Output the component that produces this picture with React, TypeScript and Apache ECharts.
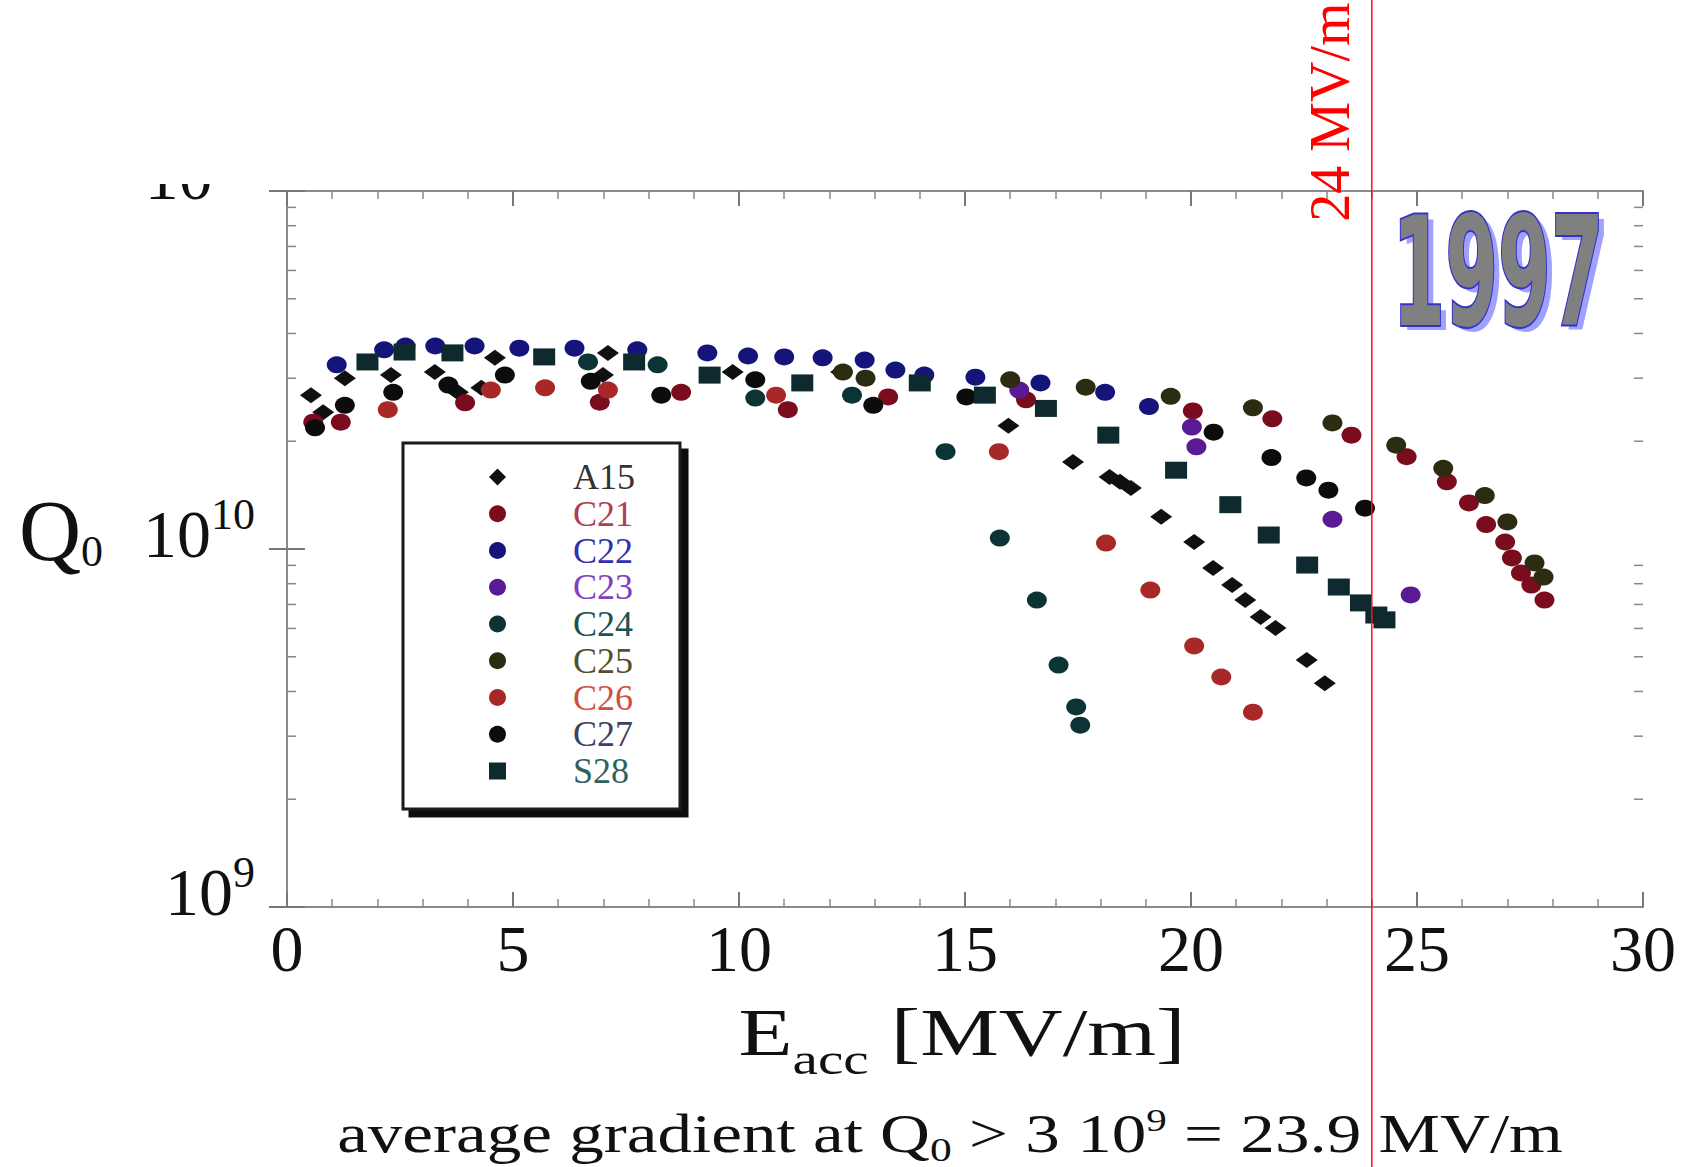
import React, { useEffect, useRef } from "react";
import * as echarts from "echarts";

// ---- data: [Eacc (MV/m), Q0 in units of 1e10] ----
const seriesNames = ["A15", "C21", "C22", "C23", "C24", "C25", "C26", "C27", "S28"];

const A15 = [
  [0.53, 2.69], [0.8, 2.41], [1.28, 3.0], [2.3, 3.06], [3.27, 3.12], [3.78, 2.74], [4.3, 2.82],
  [4.6, 3.42], [6.99, 3.06], [7.1, 3.53], [9.86, 3.12], [12.26, 3.12],
  [15.96, 2.21], [17.39, 1.75], [18.2, 1.59], [18.43, 1.54], [18.67, 1.48], [19.34, 1.23],
  [20.07, 1.046], [20.49, 0.885], [20.91, 0.793], [21.2, 0.72], [21.54, 0.646], [21.87, 0.602],
  [22.56, 0.49], [22.96, 0.422],
];
const C21 = [
  [0.58, 2.26], [1.19, 2.26], [3.94, 2.56], [6.92, 2.57], [8.72, 2.74], [11.08, 2.45], [13.3, 2.66],
  [16.35, 2.61], [20.04, 2.43], [21.8, 2.31], [23.55, 2.08], [24.77, 1.81], [25.66, 1.54],
  [26.15, 1.345], [26.53, 1.17], [26.95, 1.046], [27.1, 0.944], [27.3, 0.857], [27.53, 0.793],
  [27.82, 0.72],
];
const C22 = [
  [1.1, 3.27], [2.15, 3.6], [2.62, 3.69], [3.28, 3.69], [4.15, 3.69], [5.14, 3.64], [6.36, 3.64],
  [7.75, 3.6], [9.3, 3.53], [10.2, 3.46], [11.0, 3.44], [11.85, 3.42], [12.78, 3.37], [13.46, 3.16],
  [14.1, 3.06], [15.23, 3.02], [16.67, 2.91], [18.1, 2.74], [19.07, 2.5],
];
const C23 = [[16.2, 2.78], [20.02, 2.19], [20.12, 1.93], [23.13, 1.21], [24.86, 0.744]];
const C24 = [
  [6.66, 3.33], [8.2, 3.27], [10.36, 2.64], [12.5, 2.69], [14.57, 1.87], [15.77, 1.073],
  [16.59, 0.72], [17.07, 0.474], [17.46, 0.362], [17.55, 0.322],
];
const C25 = [
  [12.3, 3.12], [12.8, 3.0], [16.0, 2.97], [17.67, 2.83], [19.55, 2.67], [21.37, 2.48], [23.13, 2.25],
  [24.54, 1.95], [25.58, 1.68], [26.5, 1.41], [27.0, 1.19], [27.6, 0.914], [27.8, 0.835],
];
const C26 = [
  [2.23, 2.45], [4.51, 2.78], [5.71, 2.82], [7.1, 2.78], [10.82, 2.69], [15.75, 1.87], [18.12, 1.039],
  [19.1, 0.768], [20.07, 0.536], [20.67, 0.439], [21.37, 0.35],
];
const C27 = [
  [0.62, 2.18], [1.28, 2.52], [2.35, 2.74], [3.57, 2.87], [4.82, 3.06], [6.72, 2.94], [8.28, 2.69],
  [10.36, 2.97], [12.97, 2.52], [15.03, 2.66], [20.5, 2.12], [21.78, 1.8], [22.55, 1.58],
  [23.04, 1.46], [23.85, 1.3],
];
const S28 = [
  [1.78, 3.33], [2.6, 3.55], [3.66, 3.53], [5.69, 3.44], [7.68, 3.33], [9.35, 3.06], [11.4, 2.91],
  [14.0, 2.91], [15.44, 2.69], [16.79, 2.47], [18.17, 2.08], [19.67, 1.66], [20.87, 1.33],
  [21.72, 1.094], [22.57, 0.902], [23.27, 0.783], [23.76, 0.707], [24.1, 0.654], [24.28, 0.634],
];
const seriesData = [A15, C21, C22, C23, C24, C25, C26, C27, S28];

const xTickInterval = 5;
const xMin = 0;
const xMax = 30;
const yMin = 1e9;
const yMax = 1e11;
const yMinorTicks = [2e9, 3e9, 4e9, 5e9, 6e9, 7e9, 8e9, 9e9, 2e10, 3e10, 4e10, 5e10, 6e10, 7e10, 8e10, 9e10];
const redLineX = 24;
const redLineLabel = "24 MV/m";
const yearLabel = "1997";

// ---- styles ----
const seriesColors = ["#101010", "#7a0c1e", "#14147a", "#5a1a96", "#0c3434", "#2c2c12", "#a82828", "#0c0c0c", "#0e2a2e"];
const legendTextColors = ["#333333", "#b04050", "#3030b0", "#8040c0", "#205050", "#505030", "#d05040", "#404060", "#306060"];
const seriesSymbols = ["diamond", "circle", "circle", "circle", "circle", "circle", "circle", "circle", "rect"];
const seriesSizes = [[22, 16], [20, 17], [20, 17], [20, 17], [20, 17], [20, 17], [20, 17], [20, 17], [22, 17]];

const SERIF = "Liberation Serif, Times New Roman, serif";
const AXIS_GRAY = "#8a8a8a";

function buildOption() {
  const axisCommon = {
    axisLine: { show: true, lineStyle: { color: AXIS_GRAY, width: 2 } },
    splitLine: { show: false },
    minorSplitLine: { show: false },
  };
  return {
    animation: false,
    backgroundColor: "#ffffff",
    grid: { left: 287, right: 44, top: 191, bottom: 260, containLabel: false },
    xAxis: [
      {
        ...axisCommon,
        type: "value",
        min: xMin,
        max: xMax,
        interval: xTickInterval,
        position: "bottom",
        axisTick: { show: true, inside: true, length: 15, lineStyle: { color: "#777", width: 2 } },
        minorTick: { show: true, splitNumber: 5, length: 8, lineStyle: { color: "#888", width: 1.5 } },
        axisLabel: { fontFamily: SERIF, fontSize: 66, color: "#111", margin: 8 },
      },
      {
        ...axisCommon,
        type: "value",
        min: xMin,
        max: xMax,
        interval: xTickInterval,
        position: "top",
        axisTick: { show: true, inside: true, length: 15, lineStyle: { color: "#777", width: 2 } },
        minorTick: { show: true, splitNumber: 5, length: 8, lineStyle: { color: "#888", width: 1.5 } },
        axisLabel: { show: false },
      },
    ],
    yAxis: [
      {
        ...axisCommon,
        type: "log",
        logBase: 10,
        min: yMin,
        max: yMax,
        position: "left",
        axisTick: { show: true, inside: true, length: 18, lineStyle: { color: "#777", width: 2 } },
        axisLabel: {
          showMinLabel: true,
          showMaxLabel: true,
          margin: 32,
          color: "#111",
          fontFamily: SERIF,
          formatter: (v: number) => {
            if (Math.abs(v - 1e10) < 1e3) return "{q|Q}{qs|0}{g|}{n|10}{sp|10}";
            if (v < 2e9) return "{n|10}{sp|9}";
            return "{n|10}{sp|11}";
          },
          rich: {
            q: { fontFamily: SERIF, fontSize: 86, color: "#111", padding: [0, 0, 36, 0] },
            qs: { fontFamily: SERIF, fontSize: 44, color: "#111", padding: [4, 0, 0, 0] },
            g: { width: 40 },
            n: { fontFamily: SERIF, fontSize: 68, color: "#111", padding: [0, 0, 30, 0] },
            sp: { fontFamily: SERIF, fontSize: 44, color: "#111", padding: [0, 0, 70, 0] },
          },
        },
      },
      {
        ...axisCommon,
        type: "log",
        logBase: 10,
        min: yMin,
        max: yMax,
        position: "right",
        axisTick: { show: true, inside: true, length: 18, lineStyle: { color: "#777", width: 2 } },
        axisLabel: { show: false },
      },
    ],
    legend: {
      orient: "vertical",
      left: 403,
      top: 443,
      itemWidth: 17,
      itemHeight: 17,
      itemGap: 0.75,
      padding: [16, 45, 20, 86],
      borderColor: "#1a1a1a",
      borderWidth: 3,
      backgroundColor: "#ffffff",
      shadowColor: "#111111",
      shadowOffsetX: 7,
      shadowOffsetY: 7,
      shadowBlur: 0,
      textStyle: { fontFamily: SERIF, fontSize: 36, padding: [0, 0, 0, 62] },
      data: seriesNames.map((n, i) => ({ name: n, textStyle: { color: legendTextColors[i] } })),
    },
    series: [
      {
        type: "custom",
        name: "minorTicks",
        xAxisIndex: 0,
        yAxisIndex: 0,
        silent: true,
        clip: false,
        z: 1,
        data: yMinorTicks.map((v) => [xMin, v]),
        renderItem: (_params: any, api: any) => {
          const v = api.value(1);
          const l = api.coord([xMin, v]);
          const r = api.coord([xMax, v]);
          const st = { stroke: "#888", lineWidth: 1.5 };
          return {
            type: "group",
            children: [
              { type: "line", shape: { x1: l[0], y1: l[1], x2: l[0] + 9, y2: l[1] }, style: st },
              { type: "line", shape: { x1: r[0] - 9, y1: r[1], x2: r[0], y2: r[1] }, style: st },
            ],
          };
        },
      },
      ...seriesNames.map((name, i) => ({
        type: "scatter",
        name,
        xAxisIndex: 0,
        yAxisIndex: 0,
        symbol: seriesSymbols[i],
        symbolSize: seriesSizes[i],
        itemStyle: { color: seriesColors[i], opacity: 1 },
        data: seriesData[i].map(([e, q]) => [e, q * 1e10]),
        z: 3 + i,
      })),
    ],
  };
}

function buildGraphics(px: number) {
  return [
    // hide the upper half of the top decade label as in the scanned original
    { type: "rect", z: 100, shape: { x: 100, y: 110, width: 170, height: 74 }, style: { fill: "#ffffff" } },
    // 24 MV/m marker line and label
    {
      type: "line",
      z: 90,
      shape: { x1: px, y1: 0, x2: px, y2: 1167 },
      style: { stroke: "#ff1010", lineWidth: 1.5 },
    },
    {
      type: "text",
      z: 90,
      x: px - 42,
      y: 112,
      rotation: Math.PI / 2,
      style: {
        text: redLineLabel,
        fontFamily: SERIF,
        fontSize: 56,
        fill: "#ff0000",
        align: "center",
        verticalAlign: "middle",
      },
    },
    // 1997 stamp (shadow + outlined text)
    {
      type: "text",
      z: 95,
      x: 1504,
      y: 277,
      scaleX: 0.5,
      style: {
        text: yearLabel,
        fontFamily: "DejaVu Sans",
        fontWeight: "bold",
        fontSize: 152,
        fill: "#a0a0ff",
        align: "center",
        verticalAlign: "middle",
      },
    },
    {
      type: "text",
      z: 96,
      x: 1498,
      y: 272,
      scaleX: 0.5,
      style: {
        text: yearLabel,
        fontFamily: "DejaVu Sans",
        fontWeight: "bold",
        fontSize: 152,
        fill: "#808080",
        stroke: "#3333cc",
        lineWidth: 4,
        align: "center",
        verticalAlign: "middle",
      },
    },
    // x axis title
    {
      type: "text",
      z: 80,
      x: 962,
      y: 1032,
      scaleX: 1.3,
      style: {
        text: "{e|E}{s|acc}{u| [MV/m]}",
        align: "center",
        verticalAlign: "middle",
        rich: {
          e: { fontFamily: SERIF, fontSize: 68, fill: "#111" },
          s: { fontFamily: SERIF, fontSize: 44, fill: "#111", padding: [54, 0, 0, 0] },
          u: { fontFamily: SERIF, fontSize: 68, fill: "#111" },
        },
      },
    },
    // caption
    {
      type: "text",
      z: 80,
      x: 950,
      y: 1134,
      scaleX: 1.28,
      style: {
        text: "{t|average gradient at Q}{s|0}{t| > 3 10}{p|9}{t| = 23.9 MV/m}",
        align: "center",
        verticalAlign: "middle",
        rich: {
          t: { fontFamily: SERIF, fontSize: 54, fill: "#111" },
          s: { fontFamily: SERIF, fontSize: 34, fill: "#111", padding: [30, 0, 0, 0] },
          p: { fontFamily: SERIF, fontSize: 32, fill: "#111", padding: [0, 0, 28, 0] },
        },
      },
    },
  ];
}

export default function App() {
  const ref = useRef<HTMLDivElement>(null);
  useEffect(() => {
    if (!ref.current) return;
    const chart = echarts.init(ref.current, null, { renderer: "svg" });
    chart.setOption(buildOption() as any);
    const px = chart.convertToPixel({ xAxisIndex: 0 }, redLineX) as unknown as number;
    chart.setOption({ graphic: buildGraphics(px) } as any);
    return () => chart.dispose();
  }, []);
  return (
    <div
      ref={ref}
      style={{ position: "fixed", left: 0, top: 0, width: 1687, height: 1167, background: "#ffffff" }}
    />
  );
}
